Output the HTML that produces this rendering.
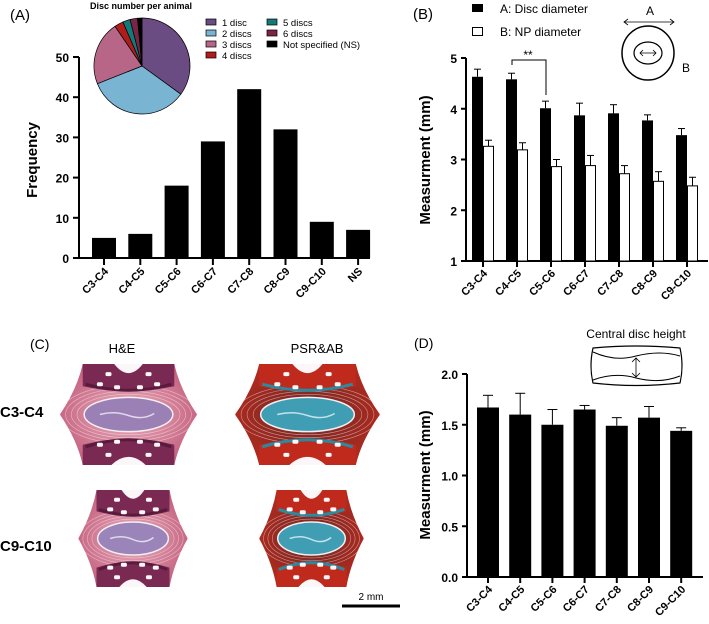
<!DOCTYPE html>
<html><head><meta charset="utf-8"><style>
body{margin:0;background:#fff;}
svg{display:block;font-family:"Liberation Sans",Arial,sans-serif;}
.b{font-weight:bold}
</style></head><body>
<svg id="s" width="709" height="624" viewBox="0 0 709 624">
<defs>
<radialGradient id="he" cx="50%" cy="50%" r="60%"><stop offset="0" stop-color="#eab0c0"/><stop offset="1" stop-color="#c05a78"/></radialGradient>
<radialGradient id="ps" cx="50%" cy="50%" r="60%"><stop offset="0" stop-color="#6a2a26"/><stop offset="1" stop-color="#b82a1e"/></radialGradient>
</defs>
<g id="pA"></g>
<g id="pB"></g>
<g id="pC"></g>
<g id="pD"></g>
</svg>
<script>
// Panel A data
const catsA=["C3-C4","C4-C5","C5-C6","C6-C7","C7-C8","C8-C9","C9-C10","NS"];
const freqA=[5,6,18,29,42,32,9,7];
const ticksA=[0,10,20,30,40,50];
const pieLabels=["1 disc","2 discs","3 discs","4 discs","5 discs","6 discs","Not specified (NS)"];
const pieVals=[35,34,21.5,3,2.5,2.5,1.5];
const pieCols=["#6a4c82","#79b4d2","#b86688","#b01c1c","#127a78","#7a2448","#000"];
// Panel B data
const catsB=["C3-C4","C4-C5","C5-C6","C6-C7","C7-C8","C8-C9","C9-C10"];
const discB=[4.63,4.58,4.01,3.87,3.91,3.77,3.48];
const discErrB=[0.15,0.12,0.14,0.24,0.17,0.11,0.13];
const npB=[3.26,3.19,2.86,2.88,2.72,2.57,2.48];
const npErrB=[0.12,0.14,0.14,0.2,0.16,0.19,0.17];
const ticksB=[1,2,3,4,5];
// Panel D data
const catsD=["C3-C4","C4-C5","C5-C6","C6-C7","C7-C8","C8-C9","C9-C10"];
const heightD=[1.67,1.60,1.50,1.65,1.49,1.57,1.44];
const heightErrD=[0.12,0.21,0.15,0.04,0.08,0.11,0.03];
const ticksD=["0.0","0.5","1.0","1.5","2.0"];

const NS="http://www.w3.org/2000/svg";
function mk(p,t,a,txt){const e=document.createElementNS(NS,t);for(const k in a)e.setAttribute(k,a[k]);if(txt!==undefined)e.textContent=txt;p.appendChild(e);return e;}

// ---- Panel A
(function(){
const g=document.getElementById('pA');
const y=v=>258-v*4.02, x=i=>104+i*36.3;
mk(g,'text',{x:10,y:20,'font-size':15},'(A)');
ticksA.forEach(t=>{const l=mk(g,'line',{x1:73,x2:79,y1:y(t),y2:y(t),stroke:'#000','stroke-width':2});

const tx=mk(g,'text',{x:69,y:y(t)+5,'font-size':12,'text-anchor':'end',class:'b'},t);
});
mk(g,'line',{x1:79,x2:79,y1:y(50),y2:259,stroke:'#000','stroke-width':2});
mk(g,'line',{x1:78,x2:370,y1:258,y2:258,stroke:'#000','stroke-width':2});
catsA.forEach((c,i)=>{
const r=mk(g,'rect',{x:x(i)-12,y:y(freqA[i]),width:24,height:258-y(freqA[i]),fill:'#000'});

mk(g,'line',{x1:x(i),x2:x(i),y1:258,y2:265,stroke:'#000','stroke-width':2});
const t=mk(g,'text',{transform:`translate(${x(i)+5},${272}) rotate(-45)`,'font-size':11,'text-anchor':'end',class:'b'},c);

});
const yl=mk(g,'text',{transform:'translate(37,160) rotate(-90)','font-size':15,'text-anchor':'middle',class:'b'},'Frequency');

const cx=142,cy=66,R=48;let a0=0;const tot=pieVals.reduce((a,b)=>a+b,0);
pieVals.forEach((v,i)=>{const a1=a0+v/tot*2*Math.PI;
const p=(a)=>[cx+R*Math.sin(a),cy-R*Math.cos(a)];const [x0,y0]=p(a0),[x1,y1]=p(a1);
const s=mk(g,'path',{d:`M${cx},${cy}L${x0},${y0}A${R},${R} 0 ${a1-a0>Math.PI?1:0} 1 ${x1},${y1}Z`,fill:pieCols[i],stroke:'#000','stroke-width':0.7});
a0=a1;});
const pt=mk(g,'text',{x:90,y:9,'font-size':9,class:'b'},'Disc number per animal');

pieLabels.forEach((l,i)=>{const col=i<4?0:1,row=i<4?i:i-4;const lx=206+col*61,ly=23+row*11;
const sw=mk(g,'rect',{x:lx,y:ly-4,width:10,height:6,fill:pieCols[i],stroke:'#000','stroke-width':0.7});

const t=mk(g,'text',{x:lx+16,y:ly+3,'font-size':9.5},l);});
})();

// ---- Panel B
(function(){
const g=document.getElementById('pB');
const y=v=>261-(v-1)*50.75, x=i=>483+i*34;
mk(g,'text',{x:413,y:19,'font-size':15},'(B)');
ticksB.forEach(t=>{mk(g,'line',{x1:461,x2:466,y1:y(t),y2:y(t),stroke:'#000','stroke-width':2});
const tx=mk(g,'text',{x:457,y:y(t)+5,'font-size':12,'text-anchor':'end',class:'b'},t);
});
mk(g,'line',{x1:466,x2:466,y1:y(5),y2:262,stroke:'#000','stroke-width':2});
mk(g,'line',{x1:465,x2:708,y1:261,y2:261,stroke:'#000','stroke-width':2});
catsB.forEach((c,i)=>{
const e1=y(discB[i]+discErrB[i]);
mk(g,'line',{x1:x(i)-5.5,x2:x(i)-5.5,y1:e1,y2:y(discB[i]),stroke:'#000'});
mk(g,'line',{x1:x(i)-9,x2:x(i)-2,y1:e1,y2:e1,stroke:'#000'});
const r=mk(g,'rect',{x:x(i)-11,y:y(discB[i]),width:11,height:261-y(discB[i]),fill:'#000'});

const e2=y(npB[i]+npErrB[i]);
mk(g,'line',{x1:x(i)+5.5,x2:x(i)+5.5,y1:e2,y2:y(npB[i]),stroke:'#000'});
mk(g,'line',{x1:x(i)+2,x2:x(i)+9,y1:e2,y2:e2,stroke:'#000'});
const r2=mk(g,'rect',{x:x(i)+0.5,y:y(npB[i]),width:10,height:261-y(npB[i]),fill:'#fff',stroke:'#000','stroke-width':1});

mk(g,'line',{x1:x(i),x2:x(i),y1:261,y2:267,stroke:'#000','stroke-width':2});
const t=mk(g,'text',{transform:`translate(${x(i)+5},${274}) rotate(-45)`,'font-size':11,'text-anchor':'end',class:'b'},c);

});
const yl=mk(g,'text',{transform:'translate(430,160) rotate(-90)','font-size':15,'text-anchor':'middle',class:'b'},'Measurment (mm)');

mk(g,'path',{d:`M${x(1)-5},65 V60 H${x(2)-5} V95`,fill:'none',stroke:'#000'});
mk(g,'text',{x:528,y:59,'font-size':12,'text-anchor':'middle'},'**');
mk(g,'rect',{x:472,y:4,width:11,height:8,fill:'#000'});
mk(g,'text',{x:500,y:13,'font-size':12},'A: Disc diameter');
mk(g,'rect',{x:472.5,y:27.5,width:10,height:8,fill:'#fff',stroke:'#000'});
mk(g,'text',{x:500,y:36,'font-size':12},'B: NP diameter');
mk(g,'ellipse',{cx:648,cy:53,rx:26,ry:27,fill:'none',stroke:'#000','stroke-width':1.5});
mk(g,'ellipse',{cx:648,cy:53,rx:14,ry:11,fill:'none',stroke:'#000','stroke-width':1.2});
mk(g,'path',{d:'M624,22H674M628,19L624,22L628,25M670,19L674,22L670,25M640,53H656M643,50L640,53L643,56M653,50L656,53L653,56',fill:'none',stroke:'#000','stroke-width':0.8});
mk(g,'text',{x:650,y:15,'font-size':12,'text-anchor':'middle'},'A');
mk(g,'text',{x:686,y:72,'font-size':12,'text-anchor':'middle'},'B');
})();

// ---- Panel C (histology approximations)
(function(){
const g=document.getElementById('pC');
mk(g,'text',{x:30,y:349,'font-size':14},'(C)');
mk(g,'text',{x:122,y:353,'font-size':13,'text-anchor':'middle'},'H&E');
mk(g,'text',{x:317,y:353,'font-size':13,'text-anchor':'middle'},'PSR&AB');
mk(g,'text',{x:0,y:417,'font-size':15,class:'b'},'C3-C4');
mk(g,'text',{x:0,y:551,'font-size':15,class:'b'},'C9-C10');
function tissue(x0,y0,w,h,outer,bone,lining,npCol,name){
const t=mk(g,'g',{});
const cx=x0+w/2,cy=y0+h/2;
mk(t,'path',{d:`M${x0+w*0.18},${y0}H${x0+w*0.82}Q${x0+w*0.86},${y0+h*0.25} ${x0+w*0.98},${cy}Q${x0+w*0.86},${y0+h*0.75} ${x0+w*0.82},${y0+h}H${x0+w*0.18}Q${x0+w*0.14},${y0+h*0.75} ${x0+w*0.02},${cy}Q${x0+w*0.14},${y0+h*0.25} ${x0+w*0.18},${y0}Z`,fill:outer});
for(let k=0;k<4;k++)mk(t,'ellipse',{cx,cy,rx:w*(0.36+k*0.04),ry:h*(0.2+k*0.03),fill:'none',stroke:'rgba(255,235,240,0.55)','stroke-width':0.6});
mk(t,'path',{d:`M${x0+w*0.18},${y0}H${x0+w*0.82}V${y0+h*0.22}Q${cx},${y0+h*0.32} ${x0+w*0.18},${y0+h*0.22}Z`,fill:bone});
mk(t,'path',{d:`M${x0+w*0.18},${y0+h}H${x0+w*0.82}V${y0+h*0.8}Q${cx},${y0+h*0.68} ${x0+w*0.18},${y0+h*0.8}Z`,fill:bone});
mk(t,'path',{d:`M${x0+w*0.2},${y0+h*0.2}Q${cx},${y0+h*0.32} ${x0+w*0.8},${y0+h*0.2}M${x0+w*0.2},${y0+h*0.82}Q${cx},${y0+h*0.68} ${x0+w*0.8},${y0+h*0.82}`,fill:'none',stroke:lining,'stroke-width':3});
mk(t,'path',{d:`M${cx-w*0.1},${y0}Q${cx},${y0+h*0.18} ${cx+w*0.1},${y0}Z`,fill:'#fbf6f7'});
mk(t,'path',{d:`M${cx-w*0.12},${y0+h}Q${cx},${y0+h*0.84} ${cx+w*0.12},${y0+h}Z`,fill:'#fbf6f7'});
[[0.3,0.2],[0.42,0.23],[0.58,0.23],[0.7,0.2],[0.36,0.1],[0.64,0.1]].forEach(p=>{
mk(t,'rect',{x:x0+w*p[0]-3,y:y0+h*p[1]-2,width:6,height:4,rx:1.5,fill:'#fbf6f7'});
mk(t,'rect',{x:x0+w*p[0]-3,y:y0+h*(1-p[1])-2,width:6,height:4,rx:1.5,fill:'#fbf6f7'});});
mk(t,'ellipse',{cx,cy,rx:w*0.31,ry:h*0.17,fill:npCol,stroke:'#f4eef0','stroke-width':1.5});
mk(t,'path',{d:`M${cx-w*0.2},${cy}Q${cx-w*0.1},${cy-4} ${cx},${cy+1}T${cx+w*0.18},${cy-1}`,fill:'none',stroke:'rgba(255,255,255,0.7)','stroke-width':1.5});
}
tissue(57,364,143,101,'url(#he)','#7a2a52','#5a1a3e','#9a80b4','he-c3c4-image');
tissue(232,364,151,101,'url(#ps)','#c02a1c','#2a8aa0','#3f9eb4','psr-c3c4-image');
tissue(76,490,114,97,'url(#he)','#7a2a52','#5a1a3e','#9a84ba','he-c9c10-image');
tissue(257,490,109,97,'url(#ps)','#c02a1c','#2a8aa0','#3f9eb4','psr-c9c10-image');
mk(g,'line',{x1:342,x2:400,y1:606,y2:606,stroke:'#000','stroke-width':3});
mk(g,'text',{x:371,y:600,'font-size':10,'text-anchor':'middle'},'2 mm');
})();

// ---- Panel D
(function(){
const g=document.getElementById('pD');
const y=v=>577-v*101.5, x=i=>488+i*32.2;
mk(g,'text',{x:414,y:348,'font-size':14},'(D)');
ticksD.forEach(t=>{const v=parseFloat(t);mk(g,'line',{x1:462,x2:467,y1:y(v),y2:y(v),stroke:'#000','stroke-width':2});
const tx=mk(g,'text',{x:458,y:y(v)+5,'font-size':12,'text-anchor':'end',class:'b'},t);
});
mk(g,'line',{x1:467,x2:467,y1:y(2),y2:578,stroke:'#000','stroke-width':2});
mk(g,'line',{x1:466,x2:703,y1:577,y2:577,stroke:'#000','stroke-width':2});
catsD.forEach((c,i)=>{
const e=y(heightD[i]+heightErrD[i]);
mk(g,'line',{x1:x(i),x2:x(i),y1:e,y2:y(heightD[i]),stroke:'#000'});
mk(g,'line',{x1:x(i)-5,x2:x(i)+5,y1:e,y2:e,stroke:'#000'});
const r=mk(g,'rect',{x:x(i)-11,y:y(heightD[i]),width:22,height:577-y(heightD[i]),fill:'#000'});

mk(g,'line',{x1:x(i),x2:x(i),y1:577,y2:583,stroke:'#000','stroke-width':2});
const t=mk(g,'text',{transform:`translate(${x(i)+5},${590}) rotate(-45)`,'font-size':11,'text-anchor':'end',class:'b'},c);

});
const yl=mk(g,'text',{transform:'translate(430,475) rotate(-90)','font-size':15,'text-anchor':'middle',class:'b'},'Measurment (mm)');

mk(g,'text',{x:636,y:338,'font-size':12,'text-anchor':'middle'},'Central disc height');
mk(g,'path',{d:'M593,348Q636,344 680,348Q684,366 680,383Q636,388 593,383Q589,366 593,348Z',fill:'none',stroke:'#000','stroke-width':1.2});
mk(g,'path',{d:'M593,352Q615,362 636,356Q660,350 680,356M593,380Q615,372 636,378Q660,384 680,376',fill:'none',stroke:'#000','stroke-width':1});
mk(g,'path',{d:'M636,358V377M632,362L636,358L640,362M632,373L636,377L640,373',fill:'none',stroke:'#000','stroke-width':0.8});
})();
</script>
</body></html>
